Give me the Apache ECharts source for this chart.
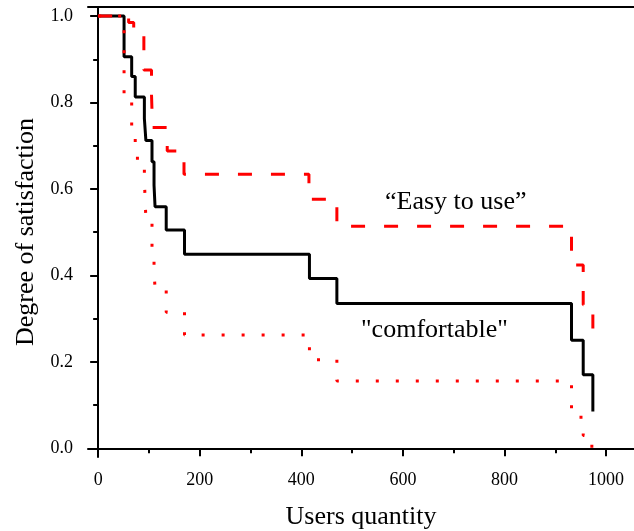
<!DOCTYPE html>
<html>
<head>
<meta charset="utf-8">
<script src="https://cdn.jsdelivr.net/npm/echarts@6/dist/echarts.min.js"></script>
<style>
  html, body { margin: 0; padding: 0; background: #fff; }
  #chart { width: 634px; height: 531px; }
</style>
</head>
<body>
<div id="chart"></div>
<script>
// "comfortable" (black solid step curve)
var comfortX = [0, 51, 66, 73, 91, 94, 106, 110, 112, 134, 170, 416, 470, 932, 955, 974];
var comfortY = [1.0, 0.906, 0.86, 0.813, 0.763, 0.712, 0.663, 0.609, 0.559, 0.505, 0.449, 0.393, 0.335, 0.25, 0.17, 0.085];
// "Easy to use" (red dashed step curve)
var easyX = [0, 60, 70, 90, 105, 107, 136, 169, 415, 470, 932, 955, 974];
var easyY = [1.0, 0.985, 0.963, 0.875, 0.82, 0.742, 0.688, 0.634, 0.576, 0.514, 0.424, 0.332, 0.246];
// lower bound (red dotted step curve)
var lowX = [0, 51, 66, 73, 91, 94, 106, 110, 112, 134, 170, 416, 470, 932, 955, 972];
var lowY = [1.0, 0.80, 0.73, 0.671, 0.62, 0.53, 0.454, 0.41, 0.37, 0.315, 0.262, 0.205, 0.156, 0.072, 0.03, 0.0];

var xMajor = [0, 200, 400, 600, 800, 1000];
var xMinor = [100, 300, 500, 700, 900];
var yMajor = [0.0, 0.2, 0.4, 0.6, 0.8, 1.0];
var yMinor = [0.1, 0.3, 0.5, 0.7, 0.9];

function pairs(xs, ys) {
    return xs.map(function (x, i) { return [x, ys[i]]; });
}

var font = "Liberation Serif, Times New Roman, serif";
var axisCol = "#000";

var chart = echarts.init(document.getElementById("chart"));
var option = {
    animation: false,
    backgroundColor: "#fff",
    grid: {left: 88, top: 7, right: 0, bottom: 74, outerBoundsMode: "none", containLabel: false},
    xAxis: [{
        type: "value", min: -20, max: 1055, position: "bottom",
        name: "Users quantity", nameLocation: "middle", nameGap: 47,
        nameTextStyle: {fontFamily: font, fontSize: 26, color: "#000"},
        axisLine: {show: true, lineStyle: {color: axisCol, width: 2}},
        axisTick: {show: true, inside: false, length: 8, customValues: xMajor, lineStyle: {color: axisCol, width: 2}},
        axisLabel: {
            show: true, customValues: xMajor, margin: 14, fontFamily: font, fontSize: 18, color: "#000",
            formatter: function (v) { return String(Math.round(v)); }
        },
        splitLine: {show: false}
    }, {
        type: "value", min: -20, max: 1055, position: "bottom",
        axisLine: {show: false},
        axisTick: {show: true, inside: false, length: 5, customValues: xMinor, lineStyle: {color: axisCol, width: 2}},
        axisLabel: {show: false},
        splitLine: {show: false}
    }, {
        type: "value", min: -20, max: 1055, position: "top",
        axisLine: {show: true, lineStyle: {color: axisCol, width: 2}},
        axisTick: {show: false}, axisLabel: {show: false}, splitLine: {show: false}
    }],
    yAxis: [{
        type: "value", min: -0.02, max: 1.021, position: "left",
        name: "Degree of satisfaction", nameLocation: "middle", nameGap: 47,
        nameTextStyle: {fontFamily: font, fontSize: 26, color: "#000"},
        axisLine: {show: true, lineStyle: {color: axisCol, width: 2}},
        axisTick: {show: true, inside: false, length: 8, customValues: yMajor, lineStyle: {color: axisCol, width: 2}},
        axisLabel: {
            show: true, customValues: yMajor, margin: 15, fontFamily: font, fontSize: 18, color: "#000",
            formatter: function (v) { return v.toFixed(1); }
        },
        splitLine: {show: false}
    }, {
        type: "value", min: -0.02, max: 1.021, position: "left",
        axisLine: {show: false},
        axisTick: {show: true, inside: false, length: 5, customValues: yMinor, lineStyle: {color: axisCol, width: 2}},
        axisLabel: {show: false},
        splitLine: {show: false}
    }],
    series: [{
        name: "comfortable", type: "line", step: "end", symbol: "none",
        lineStyle: {color: "#000", width: 3},
        data: pairs(comfortX, comfortY)
    }, {
        name: "lower", type: "line", step: "end", symbol: "none",
        lineStyle: {color: "#ff0000", width: 3, type: [3, 17], cap: "butt"},
        data: pairs(lowX, lowY)
    }, {
        name: "Easy to use", type: "line", step: "end", symbol: "none",
        lineStyle: {color: "#ff0000", width: 3, type: [14, 19], cap: "butt"},
        data: pairs(easyX, easyY)
    }],
    graphic: [{
        type: "text", x: 385, y: 202,
        style: {text: "\u201cEasy to use\u201d", fontFamily: font, fontSize: 26, fill: "#000", align: "left", verticalAlign: "middle"}
    }, {
        type: "text", x: 361, y: 330,
        style: {text: "\"comfortable\"", fontFamily: font, fontSize: 26, fill: "#000", align: "left", verticalAlign: "middle"}
    }]
};
chart.setOption(option);
</script>
</body>
</html>
